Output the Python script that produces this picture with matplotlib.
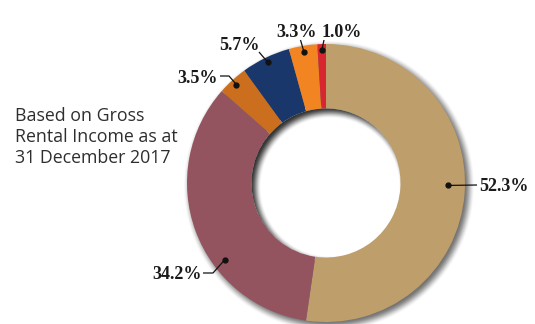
import numpy as np
import matplotlib
matplotlib.use("Agg")
import matplotlib.pyplot as plt

# Portfolio breakdown by gross rental income
shares = [52.3, 34.2, 3.5, 5.7, 3.3, 1.0]
labels = ["52.3%", "34.2%", "3.5%", "5.7%", "3.3%", "1.0%"]
colors = ["#BE9E6B", "#94545F", "#CB6E1D", "#19376A", "#F28522", "#D7262F"]
note = "Based on Gross\nRental Income as at\n31 December 2017"

W, H = 535, 324
cx, cy = 326, H - 183
r_out, r_in = 139, 74.5

# label layout: (angle shift, anchor radius, text x, text baseline y (from top), ha, leader points from top)
layout = [
    (-3, 122, 479, 191, "left", [(477, 185)]),
    (-17, 127, 202, 279, "right", [(213, 273), (203, 273)]),
    (0, 133, 218, 83, "right", [(229, 76), (220, 76)]),
    (0, 134, 239, 50, "center", [(259, 52)]),
    (0, 133, 297, 37, "center", [(300.5, 40)]),
    (0, 133, 342, 37, "center", [(324, 40)]),
]

fig = plt.figure(figsize=(W / 100, H / 100), dpi=100)
ax = fig.add_axes([0, 0, 1, 1])


def smoothstep(x, a, b):
    t = np.clip((x - a) / (b - a), 0, 1)
    return t * t * (3 - 2 * t)


xs = np.arange(W) + 0.5
ys = np.arange(H) + 0.5
xx, yy = np.meshgrid(xs, ys)
dist = np.hypot(xx - cx, yy - cy)

# soft drop shadow under the ring (kept out of the hole)
d_out = np.hypot(xx - cx - 3, yy - cy + 3) - r_out
a_out = 0.55 * (1 - smoothstep(d_out, -4, 7)) * np.clip(dist - r_in - 3, 0, 1)
shadow = np.zeros((H, W, 4))
shadow[..., 3] = a_out
ax.imshow(shadow, extent=(0, W, 0, H), origin="lower", zorder=0,
          interpolation="bilinear")

wedges, _ = ax.pie(shares, colors=colors, startangle=90, counterclock=False,
                   radius=r_out, center=(cx, cy),
                   wedgeprops=dict(width=r_out - r_in, linewidth=0))
for w in wedges:
    w.set_zorder(1)

# inset shadow inside the hole
d_in = np.hypot(xx - cx - 4, yy - cy + 4) - r_in
a_in = 0.8 * smoothstep(d_in, -6, 5) * np.clip(r_in - dist + 0.5, 0, 1)
inner = np.zeros((H, W, 4))
inner[..., 3] = a_in
ax.imshow(inner, extent=(0, W, 0, H), origin="lower", zorder=2,
          interpolation="bilinear")

# value labels with leader lines
cum = np.cumsum([0] + shares[:-1])
mids = (cum + np.array(shares) / 2) / sum(shares) * 360
for lab, mid, (shift, rad, tx, ty, ha, pts) in zip(labels, mids, layout):
    ang = np.deg2rad(mid + shift)
    px, py = cx + rad * np.sin(ang), cy + rad * np.cos(ang)
    lx = [px] + [p[0] for p in pts]
    ly = [py] + [H - p[1] for p in pts]
    ax.plot(lx, ly, color="#111111", lw=0.9, zorder=3, solid_capstyle="butt")
    ax.plot([px], [py], "o", color="#111111", ms=3.5, zorder=4)
    ax.text(tx, H - ty, lab, ha=ha, va="baseline", fontsize=13,
            fontweight="bold", family="Liberation Serif", color="#1a1a1a",
            zorder=4)

ax.text(15, H - 163, note, ha="left", va="baseline", fontsize=12.8,
        family="Open Sans", fontweight="normal", color="#2e2e2e",
        linespacing=1.22)

ax.set_xlim(0, W)
ax.set_ylim(0, H)
ax.set_aspect("auto")
ax.axis("off")
fig.savefig("out.png", dpi=100)
